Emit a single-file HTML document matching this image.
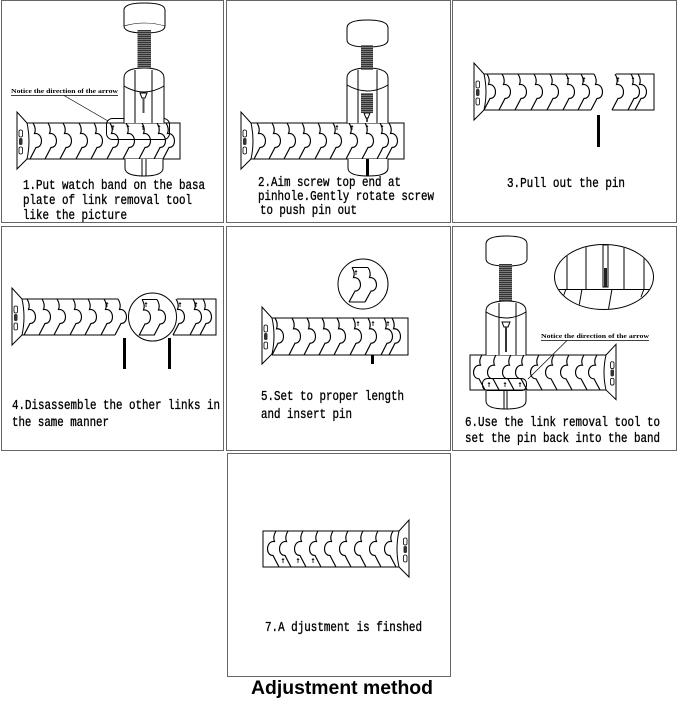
<!DOCTYPE html>
<html><head><meta charset="utf-8"><style>
html,body{margin:0;padding:0;background:#fff;}
svg{display:block;}
</style></head><body>
<svg width="679" height="702" viewBox="0 0 679 702" xmlns="http://www.w3.org/2000/svg">
<defs>
<pattern id="hatch" width="4" height="2" patternUnits="userSpaceOnUse"><rect width="4" height="2" fill="#333"/><rect y="1.2" width="4" height="0.7" fill="#999"/></pattern>
<path id="dv" d="M0,0 C2.5,4 2.5,8 1.5,10.5 C10,9.5 11,24.5 3,24.5 L-3,36" fill="none" stroke="#000" stroke-width="1.15"/>
<g id="conn">
<path d="M0,-11 L0,46 L10,36 Q14,18 10,0 Z" fill="#fff" stroke="#000" stroke-width="1"/>
<rect x="2" y="7" width="3.5" height="7" rx="1.5" fill="none" stroke="#000" stroke-width=".8"/>
<rect x="2" y="15" width="3.5" height="7" rx="1.5" fill="#333"/>
<rect x="2" y="24" width="3.5" height="7" rx="1.5" fill="none" stroke="#000" stroke-width=".8"/>
</g>
<g id="pm"><line x1="0" y1="0" x2="0" y2="5" stroke="#000" stroke-width=".8"/><line x1="-1.2" y1="1.5" x2="1.2" y2="1.5" stroke="#000" stroke-width=".8"/></g>
<clipPath id="ec"><ellipse cx="604" cy="277" rx="49" ry="32"/></clipPath>
</defs>

<!-- panel borders -->
<g fill="none" stroke="#666" stroke-width="1">
<rect x="1.5" y="0.5" width="222" height="222"/>
<rect x="226.5" y="0.5" width="224" height="222"/>
<rect x="452.5" y="0.5" width="224" height="222"/>
<rect x="1.5" y="226.5" width="222" height="224"/>
<rect x="226.5" y="226.5" width="224" height="224"/>
<rect x="452.5" y="226.5" width="224" height="224"/>
<rect x="227.5" y="453.5" width="223" height="223"/>
</g>

<g font-family="'Liberation Mono', monospace" font-size="14" fill="#000" stroke="#000" stroke-width="0.35">
<text x="23" y="189" textLength="182" lengthAdjust="spacingAndGlyphs">1.Put watch band on the basa</text>
<text x="23" y="204" textLength="169" lengthAdjust="spacingAndGlyphs">plate of link removal tool</text>
<text x="23" y="219" textLength="104" lengthAdjust="spacingAndGlyphs">like the picture</text>
<text x="258" y="186" textLength="143" lengthAdjust="spacingAndGlyphs">2.Aim screw top end at</text>
<text x="258" y="200" textLength="176" lengthAdjust="spacingAndGlyphs">pinhole.Gently rotate screw</text>
<text x="260" y="214" textLength="97" lengthAdjust="spacingAndGlyphs">to push pin out</text>
<text x="507" y="187" textLength="118" lengthAdjust="spacingAndGlyphs">3.Pull out the pin</text>
<text x="12" y="409" textLength="208" lengthAdjust="spacingAndGlyphs">4.Disassemble the other links in</text>
<text x="12" y="426" textLength="97" lengthAdjust="spacingAndGlyphs">the same manner</text>
<text x="261" y="400" textLength="143" lengthAdjust="spacingAndGlyphs">5.Set to proper length</text>
<text x="261" y="418" textLength="91" lengthAdjust="spacingAndGlyphs">and insert pin</text>
<text x="465" y="426" textLength="195" lengthAdjust="spacingAndGlyphs">6.Use the link removal tool to</text>
<text x="465" y="442" textLength="195" lengthAdjust="spacingAndGlyphs">set the pin back into the band</text>
<text x="265" y="631" textLength="157" lengthAdjust="spacingAndGlyphs">7.A djustment is finshed</text>
</g>

<text x="251" y="694" textLength="182" lengthAdjust="spacingAndGlyphs" font-family="'Liberation Sans', sans-serif" font-weight="bold" font-size="19.5" fill="#000">Adjustment method</text>

<!-- ========== PANEL 1 ========== -->
<g fill="none" stroke="#000" stroke-width="1">
<path d="M27,123 H180 V159 H27"/>
</g>
<use href="#conn" x="17" y="123"/>
<use href="#dv" x="33" y="123"/><use href="#dv" x="48" y="123"/><use href="#dv" x="63" y="123"/>
<use href="#dv" x="79" y="123"/><use href="#dv" x="94" y="123"/><use href="#dv" x="110" y="123"/>
<use href="#dv" x="126" y="123"/><use href="#dv" x="142" y="123"/><use href="#dv" x="157" y="123"/>
<use href="#dv" x="166" y="123"/>
<use href="#pm" x="113" y="125"/><use href="#pm" x="128" y="125"/><use href="#pm" x="143" y="125"/><use href="#pm" x="159" y="125"/>
<rect x="106.5" y="118.5" width="63" height="21" rx="6" fill="none" stroke="#000" stroke-width="1"/>
<g fill="none" stroke="#000" stroke-width="1">
<path d="M124,10 Q124,3 144.5,3 Q165,3 165,10 L165,26 Q165,33 144.5,33 Q124,33 124,26 Z" fill="#fff"/>
<path d="M124,26 Q144.5,20 165,26" stroke-width=".6"/>
<path d="M124,123 V78 Q124,68 144,68 Q164,68 164,78 V123" fill="#fff"/>
<path d="M124,86 Q144,98 164,86"/>
<line x1="135" y1="70" x2="135" y2="123"/><line x1="152" y1="70" x2="152" y2="123"/>
<path d="M125,159 V168 Q125,176 144,176 Q163,176 163,168 V159" fill="#fff"/>
<line x1="142" y1="159" x2="142" y2="176"/><line x1="146" y1="159" x2="146" y2="176"/>
<path d="M140,93 L147,93 L145,98 L142,98 Z"/>
</g>
<rect x="137.5" y="30" width="13.5" height="38" fill="url(#hatch)"/>
<rect x="142.5" y="98" width="2" height="15" fill="#555"/>
<text x="11" y="93" textLength="107" lengthAdjust="spacingAndGlyphs" font-family="'Liberation Serif', serif" font-weight="bold" font-size="6.5" fill="#000">Notice the direction of the arrow</text>
<line x1="11" y1="95.5" x2="118" y2="95.5" stroke="#000" stroke-width=".7"/>
<line x1="64" y1="95.5" x2="108" y2="121" stroke="#000" stroke-width=".7"/>

<!-- ========== PANEL 2 ========== -->
<g fill="none" stroke="#000" stroke-width="1">
<path d="M251,123 H404 V159 H251"/>
</g>
<use href="#conn" x="241" y="123"/>
<use href="#dv" x="257" y="123"/><use href="#dv" x="272" y="123"/><use href="#dv" x="287" y="123"/>
<use href="#dv" x="302" y="123"/><use href="#dv" x="318" y="123"/><use href="#dv" x="333" y="123"/>
<use href="#dv" x="349" y="123"/><use href="#dv" x="365" y="123"/><use href="#dv" x="380" y="123"/>
<use href="#dv" x="389" y="123"/>
<use href="#pm" x="337" y="125"/><use href="#pm" x="352" y="125"/><use href="#pm" x="367" y="125"/><use href="#pm" x="382" y="125"/>
<g fill="none" stroke="#000" stroke-width="1">
<path d="M347,28 Q347,20 367.5,20 Q388,20 388,28 L388,40 Q388,47 367.5,47 Q347,47 347,40 Z" fill="#fff"/>
<path d="M347,123 V78 Q347,68 367.5,68 Q388,68 388,78 V123" fill="#fff"/>
<path d="M347,85 Q367.5,97 388,85"/>
<line x1="358" y1="70" x2="358" y2="123"/><line x1="377" y1="70" x2="377" y2="123"/>
<path d="M348,159 V168 Q348,176 368,176 Q388,176 388,168 V159" fill="#fff"/>
<path d="M364,113 L370,113 L368,118 L366,118 Z"/>
</g>
<rect x="361" y="45" width="12" height="25" fill="url(#hatch)"/>
<rect x="361" y="93" width="12" height="20" fill="url(#hatch)"/>
<rect x="366.3" y="118" width="1.4" height="4" fill="#000"/>
<rect x="366" y="159" width="3" height="17" fill="#000"/>

<!-- ========== PANEL 3 ========== -->
<g fill="none" stroke="#000" stroke-width="1">
<path d="M484,74 H594 M484,110 H591"/>
<path d="M616,74 H654 V110 H612"/>
</g>
<use href="#conn" x="474" y="74"/>
<use href="#dv" x="487" y="74"/><use href="#dv" x="502" y="74"/><use href="#dv" x="518" y="74"/>
<use href="#dv" x="534" y="74"/><use href="#dv" x="550" y="74"/><use href="#dv" x="566" y="74"/>
<use href="#dv" x="581" y="74"/><use href="#dv" x="594" y="74"/>
<use href="#dv" x="615" y="74"/><use href="#dv" x="631" y="74"/><use href="#dv" x="638" y="74"/>
<use href="#pm" x="568" y="77"/><use href="#pm" x="584" y="77"/><use href="#pm" x="618" y="77"/><use href="#pm" x="633" y="77"/>
<rect x="597" y="115" width="3" height="32" fill="#000"/>

<!-- ========== PANEL 4 ========== -->
<g fill="none" stroke="#000" stroke-width="1">
<path d="M22,299 H118 M22,335 H115"/>
<path d="M177,299 H216 V335 H173"/>
</g>
<use href="#conn" x="12" y="299"/>
<use href="#dv" x="27" y="299"/><use href="#dv" x="42" y="299"/><use href="#dv" x="57" y="299"/>
<use href="#dv" x="73" y="299"/><use href="#dv" x="88" y="299"/><use href="#dv" x="104" y="299"/>
<use href="#dv" x="118" y="299"/>
<use href="#dv" x="176" y="299"/><use href="#dv" x="193" y="299"/><use href="#dv" x="203" y="299"/>
<use href="#pm" x="107" y="302"/><use href="#pm" x="180" y="302"/><use href="#pm" x="196" y="302"/>
<circle cx="152.5" cy="317" r="24" fill="none" stroke="#000" stroke-width="1"/>
<g fill="none" stroke="#000" stroke-width="1"><path d="M142,299.5 H157 M139,335 H154"/></g>
<use href="#dv" x="142" y="299.5"/><use href="#dv" x="157" y="299.5"/>
<use href="#pm" x="146" y="302"/>
<rect x="123" y="338" width="3" height="31" fill="#000"/>
<rect x="168" y="338" width="3" height="31" fill="#000"/>

<!-- ========== PANEL 5 ========== -->
<g fill="none" stroke="#000" stroke-width="1">
<path d="M272,318 H408 V355 H272"/>
</g>
<use href="#conn" x="262" y="318"/>
<use href="#dv" transform="translate(275,318) scale(1,1.03)"/><use href="#dv" transform="translate(292,318) scale(1,1.03)"/>
<use href="#dv" transform="translate(307,318) scale(1,1.03)"/><use href="#dv" transform="translate(322,318) scale(1,1.03)"/>
<use href="#dv" transform="translate(337,318) scale(1,1.03)"/><use href="#dv" transform="translate(353,318) scale(1,1.03)"/>
<use href="#dv" transform="translate(368,318) scale(1,1.03)"/><use href="#dv" transform="translate(384,318) scale(1,1.03)"/>
<use href="#dv" transform="translate(392,318) scale(1,1.03)"/>
<use href="#pm" x="358" y="321"/><use href="#pm" x="373" y="321"/><use href="#pm" x="388" y="321"/>
<rect x="371" y="355" width="3" height="9" fill="#000"/>
<circle cx="363" cy="284" r="25" fill="none" stroke="#000" stroke-width="1"/>
<g fill="none" stroke="#000" stroke-width="1"><path d="M352,267.5 H368 M349,302 H365"/></g>
<use href="#dv" transform="translate(352,267.5) scale(1,0.96)"/><use href="#dv" transform="translate(368,267.5) scale(1,0.96)"/>
<use href="#pm" x="356" y="270"/>

<!-- ========== PANEL 6 ========== -->
<g fill="none" stroke="#000" stroke-width="1">
<path d="M606,355 H470 V390 H606"/>
</g>
<use href="#conn" transform="translate(616,355) scale(-1,0.97)"/>
<use href="#dv" transform="translate(482,355) scale(-1,0.97)"/><use href="#dv" transform="translate(496,355) scale(-1,0.97)"/>
<use href="#dv" transform="translate(511,355) scale(-1,0.97)"/><use href="#dv" transform="translate(524,355) scale(-1,0.97)"/>
<use href="#dv" transform="translate(539,355) scale(-1,0.97)"/><use href="#dv" transform="translate(554,355) scale(-1,0.97)"/>
<use href="#dv" transform="translate(569,355) scale(-1,0.97)"/><use href="#dv" transform="translate(584,355) scale(-1,0.97)"/>
<use href="#dv" transform="translate(597,355) scale(-1,0.97)"/>
<rect x="482.5" y="378.5" width="44" height="12" rx="5" fill="none" stroke="#000" stroke-width="1"/>
<use href="#pm" x="489" y="382"/><use href="#pm" x="505" y="382"/><use href="#pm" x="520" y="382"/>
<g fill="none" stroke="#000" stroke-width="1">
<path d="M486,244 Q486,236 506.5,236 Q527,236 527,244 L527,259 Q527,266 506.5,266 Q486,266 486,259 Z" fill="#fff"/>
<path d="M486,355 V311 Q486,301 506,301 Q526,301 526,311 V355" fill="#fff"/>
<path d="M486,312 Q506,324 526,312"/>
<line x1="499" y1="303" x2="499" y2="355"/><line x1="516" y1="303" x2="516" y2="355"/>
<path d="M486,391 V401 Q486,409 506,409 Q526,409 526,401 V391" fill="#fff"/>
<line x1="504" y1="391" x2="504" y2="409"/><line x1="507" y1="391" x2="507" y2="409"/>
<path d="M502,322 L510,322 L508,327 L504,327 Z"/>
</g>
<rect x="499" y="264" width="13" height="37" fill="url(#hatch)"/>
<rect x="505" y="327" width="2" height="25" fill="#333"/>
<text x="541" y="338" textLength="108" lengthAdjust="spacingAndGlyphs" font-family="'Liberation Serif', serif" font-weight="bold" font-size="6.5" fill="#000">Notice the direction of the arrow</text>
<line x1="541" y1="340.5" x2="649" y2="340.5" stroke="#000" stroke-width=".7"/>
<line x1="567" y1="340.5" x2="528" y2="379" stroke="#000" stroke-width=".7"/>
<g clip-path="url(#ec)" fill="none" stroke="#000" stroke-width="1">
<line x1="567" y1="240" x2="567" y2="289"/><line x1="586" y1="240" x2="586" y2="289"/>
<line x1="624" y1="240" x2="624" y2="289"/><line x1="644" y1="240" x2="644" y2="289"/>
<line x1="550" y1="289.5" x2="660" y2="289.5"/>
<path d="M566,289 L562,300 M582,289 L578,312 M612,289 L608,312 M644,289 L641,297"/>
<rect x="603" y="245" width="5" height="42"/>
</g>
<rect x="604" y="268" width="3" height="19" fill="#222"/>
<ellipse cx="604" cy="277" rx="49.5" ry="32.5" fill="none" stroke="#000" stroke-width="1"/>

<!-- ========== PANEL 7 ========== -->
<g fill="none" stroke="#000" stroke-width="1">
<path d="M399,531 H263 V567 H399"/>
</g>
<use href="#conn" transform="translate(409,531) scale(-1,1)"/>
<use href="#dv" transform="translate(276,531) scale(-1,1)"/><use href="#dv" transform="translate(288,531) scale(-1,1)"/>
<use href="#dv" transform="translate(303,531) scale(-1,1)"/><use href="#dv" transform="translate(318,531) scale(-1,1)"/>
<use href="#dv" transform="translate(333,531) scale(-1,1)"/><use href="#dv" transform="translate(348,531) scale(-1,1)"/>
<use href="#dv" transform="translate(363,531) scale(-1,1)"/><use href="#dv" transform="translate(378,531) scale(-1,1)"/>
<use href="#dv" transform="translate(393,531) scale(-1,1)"/>
<use href="#pm" x="283" y="558"/><use href="#pm" x="298" y="558"/><use href="#pm" x="313" y="558"/>
</svg>
</body></html>
